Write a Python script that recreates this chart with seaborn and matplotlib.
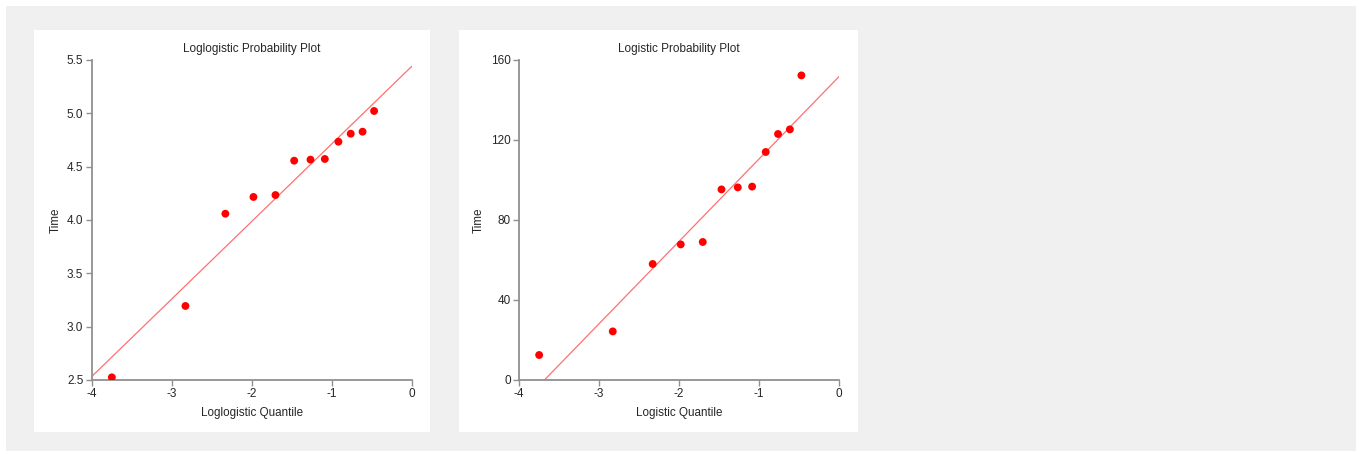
import matplotlib
matplotlib.use("Agg")
import matplotlib.pyplot as plt
import seaborn as sns
import numpy as np
import pandas as pd
from matplotlib.patches import Rectangle

# ---- data ----
quantiles = [-3.748, -2.828, -2.329, -1.978, -1.703, -1.469, -1.265, -1.086,
             -0.916, -0.762, -0.614, -0.470]
log_time = [2.525, 3.194, 4.059, 4.216, 4.234, 4.556, 4.566, 4.572,
            4.734, 4.809, 4.828, 5.022]
time = [12.5, 24.3, 58.0, 67.8, 69.0, 95.3, 96.3, 96.7,
        114.0, 123.0, 125.3, 152.3]
# fitted reference lines (intercept, slope)
loglog_fit = (5.44, 0.727)
logis_fit = (151.7, 41.2)

left_yticks = [2.5, 3.0, 3.5, 4.0, 4.5, 5.0, 5.5]
right_yticks = [0, 40, 80, 120, 160]
xticks = [-4, -3, -2, -1, 0]

sns.set_style("white")
plt.rcParams['font.family'] = ['Liberation Sans', 'DejaVu Sans']

W, H = 1359, 454
fig = plt.figure(figsize=(W / 100, H / 100), dpi=100)
fig.patch.set_facecolor("white")

def fx(px):
    return px / W

def fy(py):
    return 1 - py / H

# grey background and white panels
fig.patches.append(Rectangle((fx(6), fy(451)), fx(1350), 445 / H,
                             transform=fig.transFigure, facecolor="#f0f0f0",
                             edgecolor="none", zorder=-20))
for x0, x1 in [(34, 430), (459, 858)]:
    fig.patches.append(Rectangle((fx(x0), fy(432)), fx(x1 - x0), 402 / H,
                                 transform=fig.transFigure, facecolor="white",
                                 edgecolor="none", zorder=-10))

spine_col = "#909090"
text_col = "#262626"

def make_panel(ax_left, y, fit, yticks, ylim, title, xlabel, fmt):
    ax = fig.add_axes([fx(ax_left), fy(380), fx(320), 320 / H])
    ax.set_zorder(5)
    ax.set_facecolor("none")
    df = pd.DataFrame({"q": quantiles, "t": y})
    xs = np.array([-4.0, 0.0])
    line_df = pd.DataFrame({"q": xs, "t": fit[0] + fit[1] * xs})
    sns.lineplot(data=line_df, x="q", y="t", ax=ax, color="#ff7070",
                 linewidth=0.9, zorder=2)
    sns.scatterplot(data=df, x="q", y="t", ax=ax, color="#ff0000", s=32,
                    edgecolor="none", zorder=3)
    ax.set_xlim(-4, 0)
    ax.set_ylim(*ylim)
    ax.set_xticks(xticks)
    ax.set_xticklabels([str(v) for v in xticks])
    ax.set_yticks(yticks)
    ax.set_yticklabels([fmt.format(v) for v in yticks])
    for s in ["top", "right"]:
        ax.spines[s].set_visible(False)
    for s in ["left", "bottom"]:
        ax.spines[s].set_color(spine_col)
        ax.spines[s].set_linewidth(1.3)
    ax.tick_params(axis="both", direction="out", length=4, width=1.0,
                   color=spine_col, labelsize=8.5, labelcolor=text_col, pad=2,
                   bottom=True, left=True)
    ax.set_title(title, fontsize=8.5, color=text_col, pad=6)
    ax.set_xlabel(xlabel, fontsize=8.4, color=text_col, labelpad=5)
    ax.set_ylabel("Time", fontsize=8.4, color=text_col, labelpad=4)
    return ax

make_panel(91.7, log_time, loglog_fit, left_yticks, (2.5, 5.5),
           "Loglogistic Probability Plot", "Loglogistic Quantile", "{:.1f}")
make_panel(519, time, logis_fit, right_yticks, (0, 160),
           "Logistic Probability Plot", "Logistic Quantile", "{:d}")

fig.savefig("out.png", dpi=100, facecolor=fig.get_facecolor())
